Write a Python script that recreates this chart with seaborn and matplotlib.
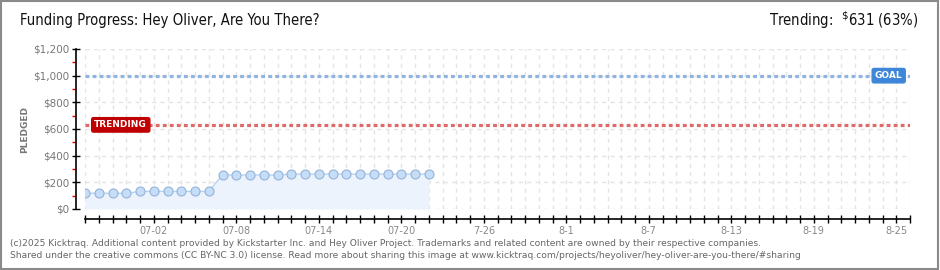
import matplotlib
matplotlib.use("Agg")
import matplotlib.pyplot as plt
import seaborn as sns
import pandas as pd
import numpy as np
from matplotlib.patches import Rectangle

# ---- data ----
start_date = "2025-06-27"
pledged = [118, 118, 118, 118, 132, 132, 132, 132, 132, 132,
           255, 255, 255, 255, 255, 262, 262, 262, 262, 262,
           262, 262, 262, 262, 262, 262]
total_days = 60
goal = 1000
trending = 631
tick_days = [5, 11, 17, 23, 29, 35, 41, 47, 53, 59]
tick_labels = ["07-02", "07-08", "07-14", "07-20", "7-26", "8-1", "8-7", "8-13", "8-19", "8-25"]
y_ticks = [0, 200, 400, 600, 800, 1000, 1200]

df = pd.DataFrame({"day": np.arange(len(pledged)), "pledged": pledged})

sns.set_style("white")
plt.rcParams["font.family"] = ["DejaVu Sans"]

fig = plt.figure(figsize=(9.4, 2.7), dpi=100)
ax = fig.add_axes([85 / 940, 61 / 270, 825 / 940, 160 / 270])
ax.set_facecolor("white")

# grid
for d in range(0, total_days + 1):
    ax.axvline(d, color="#e4e4e4", lw=1, ls=(0, (3, 3)), zorder=0)
for yv in y_ticks:
    ax.axhline(yv, color="#e4e4e4", lw=1, ls=(0, (3, 3)), zorder=0)

# fill + line
ax.fill_between(df["day"], 0, df["pledged"], color="#ecf3fc", zorder=1, lw=0)
sns.lineplot(data=df, x="day", y="pledged", ax=ax, color="#b6d3f3", lw=1,
             marker="o", markersize=6.5, markerfacecolor="#c6ddf7",
             markeredgecolor="#94b3d9", markeredgewidth=0.8, zorder=3)

# goal / trending lines
ax.plot([0, total_days], [goal, goal], color="#8fb4e0", lw=2.3,
        ls=(0, (1.2, 1.0)), zorder=2, solid_capstyle="butt")
ax.plot([0, total_days], [trending, trending], color="#e06a6a", lw=2.3,
        ls=(0, (1.2, 1.0)), zorder=2, solid_capstyle="butt")
ax.text(58.45, goal, "GOAL", ha="center", va="center", color="white",
        fontsize=6.5, fontweight="bold", zorder=5,
        bbox=dict(boxstyle="round,pad=0.3,rounding_size=0.2", fc="#3d86d8", ec="#3d86d8"))
ax.text(2.6, trending, "TRENDING", ha="center", va="center", color="white",
        fontsize=6.5, fontweight="bold", zorder=5,
        bbox=dict(boxstyle="round,pad=0.3,rounding_size=0.2", fc="#c00000", ec="#c00000"))

ax.set_xlim(0, total_days)
ax.set_ylim(0, 1200)

# spines
for s in ["top", "right"]:
    ax.spines[s].set_visible(False)
ax.spines["left"].set_position(("outward", 6.5))
ax.spines["bottom"].set_position(("outward", 7.2))
ax.spines["left"].set_bounds(0, 1200)
ax.spines["bottom"].set_bounds(0, total_days)
ax.spines["left"].set_color("black")
ax.spines["bottom"].set_color("black")
ax.spines["left"].set_linewidth(1.2)
ax.spines["bottom"].set_linewidth(1.2)

ax.set_yticks(y_ticks)
ax.set_yticklabels(["${:,}".format(v) for v in y_ticks])
ax.set_yticks([v + 100 for v in y_ticks[:-1]], minor=True)
ax.tick_params(axis="y", which="both", left=True)
ax.tick_params(axis="y", which="major", direction="inout", length=6, width=1,
               color="black", labelsize=7.5, labelcolor="#777777", pad=2)
ax.tick_params(axis="y", which="minor", direction="out", length=3, width=1, color="#e00000")

ax.set_xticks(list(range(0, total_days + 1)))
lbls = [""] * (total_days + 1)
for d, l in zip(tick_days, tick_labels):
    lbls[d] = l
ax.set_xticklabels(lbls)
ax.tick_params(axis="x", which="major", bottom=True, direction="inout", length=6, width=1,
               color="black", labelsize=7, labelcolor="#888888", pad=2)

ax.set_xlabel("")
ax.set_ylabel("")
fig.text(25 / 940, 0.522, "PLEDGED", rotation=90, ha="center", va="center",
         fontsize=6.5, fontweight="bold", color="#777777")

# titles
fig.text(20 / 940, 1 - 20 / 270, "Funding Progress: Hey Oliver, Are You There?",
         ha="left", va="center", fontsize=10.6, color="#111111", fontstretch="condensed")
fig.text(918 / 940, 1 - 20 / 270, r"Trending:  $^{\$}$631 (63%)",
         ha="right", va="center", fontsize=10.6, color="#111111", fontstretch="condensed")

# footer
fig.text(10 / 940, 1 - 243 / 270,
         "(c)2025 Kicktraq. Additional content provided by Kickstarter Inc. and Hey Oliver Project. Trademarks and related content are owned by their respective companies.",
         ha="left", va="center", fontsize=6.6, color="#666666")
fig.text(10 / 940, 1 - 256 / 270,
         "Shared under the creative commons (CC BY-NC 3.0) license. Read more about sharing this image at www.kicktraq.com/projects/heyoliver/hey-oliver-are-you-there/#sharing",
         ha="left", va="center", fontsize=6.6, color="#666666")

# border
fig.patches.append(Rectangle((0.001, 0.002), 0.997, 0.995, transform=fig.transFigure,
                             fill=False, ec="#8a8a8a", lw=1.5))

fig.savefig("out.png", dpi=100)
